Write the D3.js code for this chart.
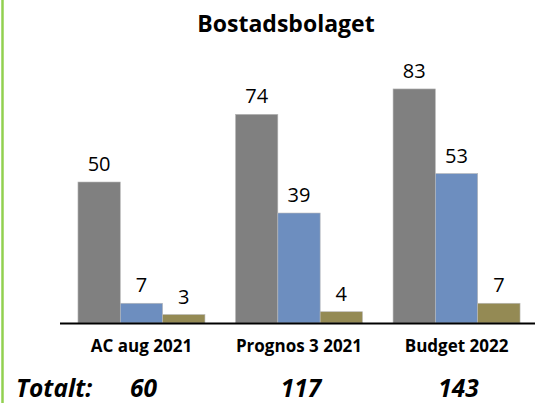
<html>
<head>
<script src="https://d3js.org/d3.v7.min.js"></script>
</head>
<body style="margin:0">
<svg id="chart" width="535" height="403"></svg>
<style>
  text { font-family: "Open Sans", "Noto Sans", sans-serif; }
</style>
<script>
const categories = ['AC aug 2021', 'Prognos 3 2021', 'Budget 2022']
const series = ['s1', 's2', 's3']
const values1 = [50, 74, 83]
const values2 = [7, 39, 53]
const values3 = [3, 4, 7]
const totals = [60, 117, 143]
const colors = ['#808080', '#6d8ebf', '#948a54']

let svg = d3.select('svg#chart')
const baseY = 323

// left border
svg.append('line')
   .attr('x1', 2.5).attr('x2', 2.5).attr('y1', 0).attr('y2', 403)
   .attr('stroke', '#92d050').attr('stroke-width', 2.5)

svg.append('text')
   .text('Bostadsbolaget')
   .attr('x', 286).attr('y', 32)
   .attr('text-anchor', 'middle')
   .attr('font-size', '23px').attr('font-weight', 'bold')

let x0 = d3.scaleBand().domain(categories).range([60, 538])
           .paddingInner(0.194).paddingOuter(0.114)
let x1 = d3.scaleBand().domain(series).range([0, x0.bandwidth()])
let y = d3.scaleLinear().domain([0, 50]).range([baseY, 182])

let rows = categories.map((c, i) => ({
    cat: c,
    vals: [values1[i], values2[i], values3[i]]
}))

let groups = svg.selectAll('g.grp')
    .data(rows)
    .join('g')
    .attr('class', 'grp')
    .attr('transform', d => `translate(${x0(d.cat)},0)`)

groups.selectAll('rect')
    .data(d => d.vals.map((v, j) => ({ s: series[j], v: v, j: j })))
    .join('rect')
    .attr('x', d => x1(d.s))
    .attr('y', d => y(d.v))
    .attr('width', x1.bandwidth())
    .attr('height', d => baseY - y(d.v))
    .attr('fill', d => colors[d.j])
    .attr('stroke', '#b8b8b8').attr('stroke-width', 0.6)

groups.selectAll('text.val')
    .data(d => d.vals.map((v, j) => ({ s: series[j], v: v })))
    .join('text')
    .attr('class', 'val')
    .attr('x', d => x1(d.s) + x1.bandwidth() / 2)
    .attr('y', d => y(d.v) - 11)
    .attr('text-anchor', 'middle')
    .attr('font-size', '20px')
    .text(d => d.v)

// baseline
svg.append('line')
   .attr('x1', 60).attr('x2', 535).attr('y1', baseY + 0.5).attr('y2', baseY + 0.5)
   .attr('stroke', 'black').attr('stroke-width', 1.8)

svg.selectAll('text.cat')
   .data(categories)
   .join('text')
   .attr('class', 'cat')
   .attr('x', d => x0(d) + x0.bandwidth() / 2)
   .attr('y', 352)
   .attr('text-anchor', 'middle')
   .attr('font-size', '17px').attr('font-weight', 'bold')
   .text(d => d)

svg.append('text')
   .text('Totalt:')
   .attr('x', 16).attr('y', 397)
   .attr('font-size', '24.5px').attr('font-weight', 'bold').attr('font-style', 'italic')

svg.selectAll('text.tot')
   .data(totals)
   .join('text')
   .attr('class', 'tot')
   .attr('x', (d, i) => x0(categories[i]) + x0.bandwidth() / 2 + 2)
   .attr('y', 397)
   .attr('text-anchor', 'middle')
   .attr('font-size', '24.5px').attr('font-weight', 'bold').attr('font-style', 'italic')
   .text(d => d)
</script>
</body>
</html>
